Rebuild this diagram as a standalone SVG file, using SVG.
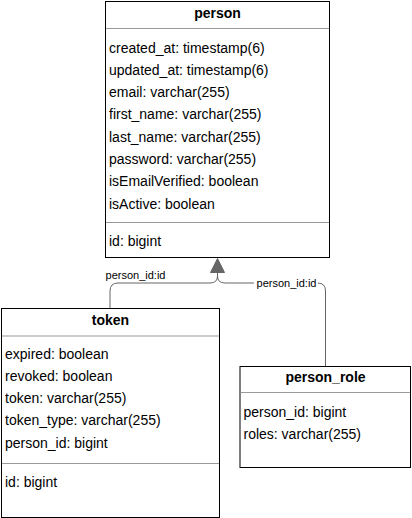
<svg xmlns="http://www.w3.org/2000/svg" width="412" height="518" viewBox="0 0 412 518">
<style>
.box{fill:#fff;stroke:#000;stroke-width:1}
.sep{stroke:#999;stroke-width:1}
.hd{font-family:"Liberation Sans",Arial,sans-serif;font-size:14px;font-weight:bold;fill:#000;text-anchor:middle}
.at{font-family:"Liberation Sans",Arial,sans-serif;font-size:14px;fill:#000}
.lbl{font-family:"Liberation Sans",Arial,sans-serif;font-size:11px;fill:#000;text-anchor:middle}
.edge{fill:none;stroke:#666;stroke-width:1}
</style>
<rect width="412" height="518" fill="#fff"/>
<g id="person">
<rect class="box" x="105.5" y="1.5" width="224" height="256"/>
<line class="sep" x1="106" y1="28.5" x2="329" y2="28.5"/>
<line class="sep" x1="106" y1="222.5" x2="329" y2="222.5"/>
<text class="hd" x="217.5" y="18">person</text>
<text class="at" x="109" y="52.5">created_at: timestamp(6)</text>
<text class="at" x="109" y="74.8">updated_at: timestamp(6)</text>
<text class="at" x="109" y="97.1">email: varchar(255)</text>
<text class="at" x="109" y="119.4">first_name: varchar(255)</text>
<text class="at" x="109" y="141.7">last_name: varchar(255)</text>
<text class="at" x="109" y="164">password: varchar(255)</text>
<text class="at" x="109" y="186.3">isEmailVerified: boolean</text>
<text class="at" x="109" y="208.6">isActive: boolean</text>
<text class="at" x="109" y="246">id: bigint</text>
</g>
<g id="token">
<rect class="box" x="1.5" y="308.5" width="218" height="209"/>
<line class="sep" x1="2" y1="336" x2="219" y2="336"/>
<line class="sep" x1="2" y1="463.5" x2="219" y2="463.5"/>
<text class="hd" x="110.5" y="325">token</text>
<text class="at" x="5" y="358.5">expired: boolean</text>
<text class="at" x="5" y="380.8">revoked: boolean</text>
<text class="at" x="5" y="403.1">token: varchar(255)</text>
<text class="at" x="5" y="425.4">token_type: varchar(255)</text>
<text class="at" x="5" y="447.7">person_id: bigint</text>
<text class="at" x="5" y="486.5">id: bigint</text>
</g>
<g id="person_role">
<rect class="box" x="240" y="366.5" width="170.5" height="101"/>
<line class="sep" x1="240.5" y1="392.5" x2="410" y2="392.5"/>
<text class="hd" x="325.5" y="382">person_role</text>
<text class="at" x="243.5" y="416.8">person_id: bigint</text>
<text class="at" x="243.5" y="439">roles: varchar(255)</text>
</g>
<g id="connectors">
<path class="edge" d="M110 308 V291 Q110 283 118 283 H210 Q217.5 283 217.5 276 V272"/>
<path class="edge" d="M325.5 366 V291 Q325.5 283 317.5 283 H225 Q217.5 283 217.5 276 V272"/>
<polygon points="210.5,272.5 224.5,272.5 217.5,258.5" fill="#666" stroke="#666" stroke-width="1"/>
<text class="lbl" x="135.5" y="279">person_id:id</text>
<rect x="254" y="277" width="64" height="13" fill="#fff"/>
<text class="lbl" x="286.5" y="287">person_id:id</text>
</g>
</svg>
